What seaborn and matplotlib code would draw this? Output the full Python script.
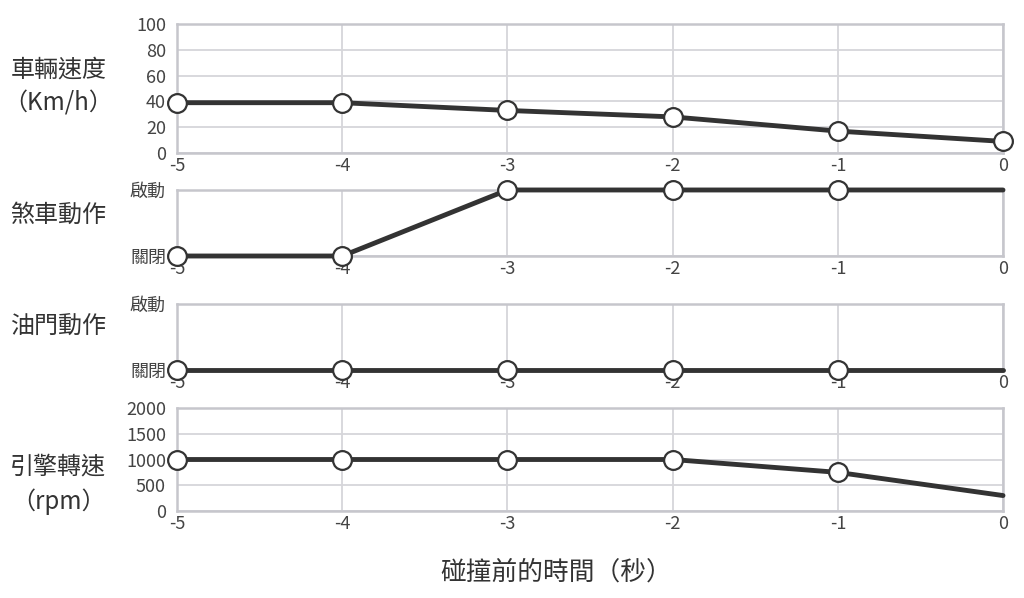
import matplotlib
matplotlib.use("Agg")
import matplotlib.pyplot as plt
import seaborn as sns

seconds = [-5, -4, -3, -2, -1, 0]
speed = [39, 39, 33, 28, 17, 9]
brake = [0, 0, 1, 1, 1, 1]
throttle = [0, 0, 0, 0, 0, 0]
rpm = [1000, 1000, 1000, 1000, 750, 300]

row_titles = ["車輛速度\n（Km/h）", "煞車動作", "油門動作", "引擎轉速\n（rpm）"]
state_labels = ["關閉", "啟動"]
x_title = "碰撞前的時間（秒）"

sns.set_style("white")
plt.rcParams["font.family"] = ["Noto Sans CJK TC", "DejaVu Sans"]
plt.rcParams["axes.unicode_minus"] = False

fig = plt.figure(figsize=(10.24, 5.98), dpi=100)

# axes boxes in figure fractions: left, bottom, width, height
boxes = [
    (0.1729, 0.7441, 0.8066, 0.2158),
    (0.1729, 0.5719, 0.8066, 0.1104),
    (0.1729, 0.3813, 0.8066, 0.1103),
    (0.1729, 0.1455, 0.8066, 0.1722),
]
series = [speed, brake, throttle, rpm]
yticks = [[0, 20, 40, 60, 80, 100], [0, 1], [0, 1], [0, 500, 1000, 1500, 2000]]
marks = [list(range(6)), list(range(5)), list(range(5)), list(range(5))]
title_y = [0.855, 0.640, 0.453, 0.190]

line_col = "#333333"
grid_col = "#d6d6da"
frame_col = "#c6c6cc"

for box, vals, yt, mk, ty, title in zip(boxes, series, yticks, marks, title_y, row_titles):
    ax = fig.add_axes(box)
    sns.lineplot(x=seconds, y=vals, ax=ax, color=line_col, linewidth=3.5,
                 marker="o", markersize=13.5, markerfacecolor="white",
                 markeredgecolor=line_col, markeredgewidth=1.6,
                 markevery=mk, clip_on=False, zorder=5)
    ax.set_xlim(-5, 0)
    ax.set_ylim(yt[0], yt[-1])
    ax.set_xticks(seconds)
    ax.set_yticks(yt)
    if len(yt) == 2:
        ax.set_yticklabels(state_labels)
    ax.grid(True, color=grid_col, linewidth=1.3)
    ax.set_axisbelow(True)
    for sp in ax.spines.values():
        sp.set_color(frame_col)
        sp.set_linewidth(1.8)
    ax.tick_params(axis="both", length=0, labelsize=13, labelcolor="#444444")
    ax.tick_params(axis="x", pad=3)
    ax.tick_params(axis="y", pad=8)
    fig.text(0.057, ty, title, ha="center", va="center", fontsize=17.3,
             color="#333333", linespacing=1.4)

fig.text(0.543, 0.043, x_title, ha="center", va="center", fontsize=18.5,
         color="#333333")

fig.savefig("out.png", dpi=100)
